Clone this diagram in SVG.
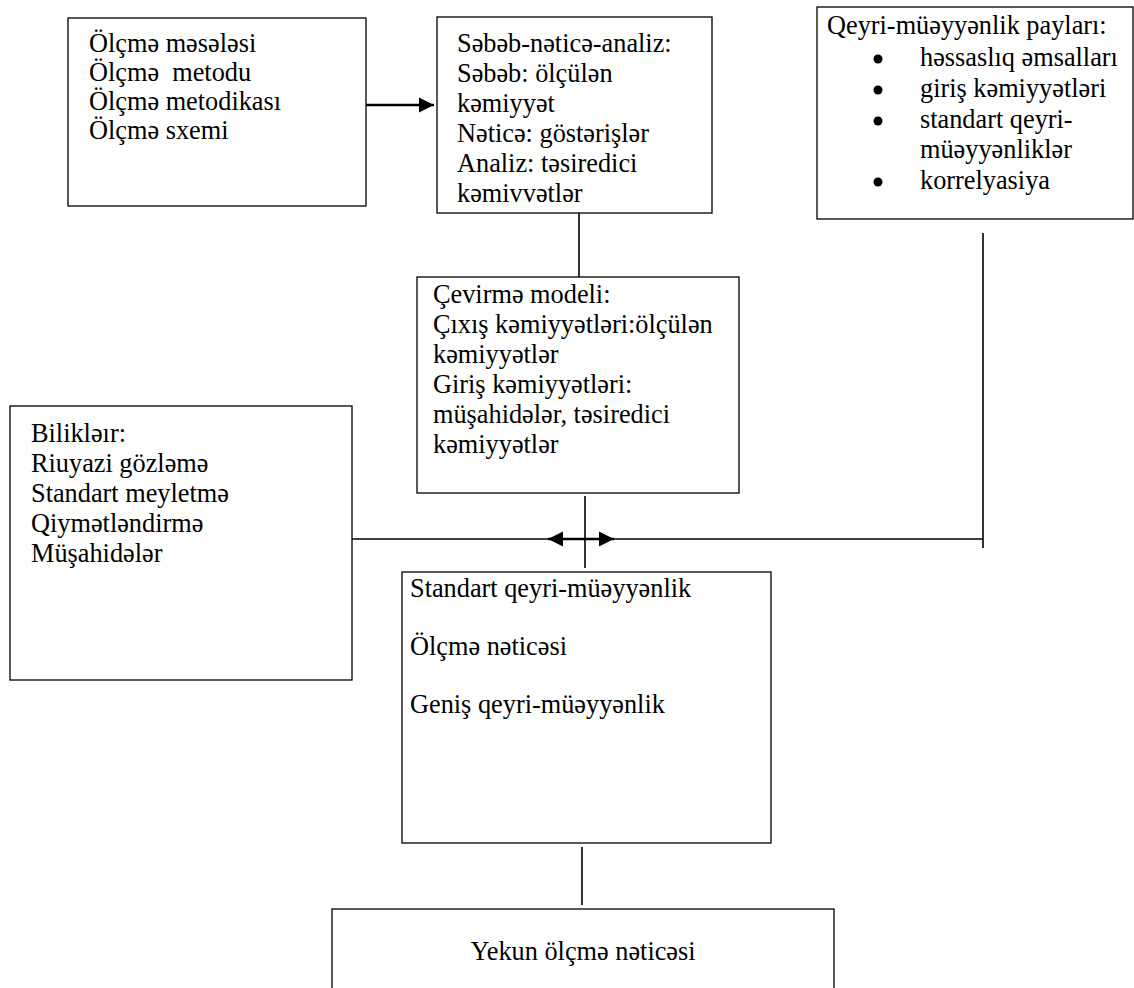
<svg xmlns="http://www.w3.org/2000/svg" width="1134" height="988" viewBox="0 0 1134 988">
<style>
  .box { fill: #ffffff; stroke: #000000; stroke-width: 1.3; }
  .t { font-family: "Liberation Serif", "DejaVu Serif", "Times New Roman", serif; font-size: 26.3px; fill: #000000; }
  .ln { stroke: #000000; stroke-width: 1.6; fill: none; }
  .thick { stroke: #000000; stroke-width: 2.6; fill: none; }
</style>
<defs>
  <marker id="ah" markerUnits="userSpaceOnUse" markerWidth="16" markerHeight="16" refX="15" refY="8" orient="auto-start-reverse">
    <path d="M0,0.5 L15,8 L0,15.5 Z" fill="#000000"/>
  </marker>
</defs>
<rect width="1134" height="988" fill="#ffffff"/>

<g id="connectors">
  <line class="thick" x1="363" y1="105" x2="434" y2="105" marker-end="url(#ah)"/>
  <line class="ln" x1="579" y1="213" x2="579" y2="277"/>
  <line class="ln" x1="585" y1="496" x2="585" y2="568"/>
  <line class="ln" x1="352" y1="539" x2="983" y2="539"/>
  <line class="thick" x1="548" y1="539" x2="614" y2="539" marker-start="url(#ah)" marker-end="url(#ah)"/>
  <line class="ln" x1="983" y1="233" x2="983" y2="548"/>
  <line class="ln" x1="582" y1="847" x2="582" y2="905"/>
</g>

<g id="n-olcme">
  <rect class="box" x="68" y="18" width="298" height="188"/>
  <text class="t" x="89" y="52">Ölçmə məsələsi</text>
  <text class="t" x="89" y="81" xml:space="preserve">Ölçmə  metodu</text>
  <text class="t" x="89" y="110">Ölçmə metodikası</text>
  <text class="t" x="89" y="139">Ölçmə sxemi</text>
</g>

<g id="n-sebeb">
  <rect class="box" x="437" y="17" width="275" height="196"/>
  <text class="t" x="457" y="52">Səbəb-nəticə-analiz:</text>
  <text class="t" x="457" y="82">Səbəb: ölçülən</text>
  <text class="t" x="457" y="112">kəmiyyət</text>
  <text class="t" x="457" y="142">Nəticə: göstərişlər</text>
  <text class="t" x="457" y="172">Analiz: təsiredici</text>
  <text class="t" x="457" y="202">kəmivvətlər</text>
</g>

<g id="n-qeyri">
  <rect class="box" x="817" y="7" width="316" height="212"/>
  <text class="t" x="827" y="34">Qeyri-müəyyənlik payları:</text>
  <circle cx="878" cy="59" r="4.5" fill="#000000"/>
  <text class="t" x="920" y="66">həssaslıq əmsalları</text>
  <circle cx="878" cy="90" r="4.5" fill="#000000"/>
  <text class="t" x="920" y="97">giriş kəmiyyətləri</text>
  <circle cx="878" cy="121" r="4.5" fill="#000000"/>
  <text class="t" x="920" y="128">standart qeyri-</text>
  <text class="t" x="920" y="158">müəyyənliklər</text>
  <circle cx="878" cy="182" r="4.5" fill="#000000"/>
  <text class="t" x="920" y="189">korrelyasiya</text>
</g>

<g id="n-cevirme">
  <rect class="box" x="417" y="277" width="322" height="216"/>
  <text class="t" x="433" y="303">Çevirmə modeli:</text>
  <text class="t" x="433" y="333">Çıxış kəmiyyətləri:ölçülən</text>
  <text class="t" x="433" y="363">kəmiyyətlər</text>
  <text class="t" x="433" y="393">Giriş kəmiyyətləri:</text>
  <text class="t" x="433" y="423">müşahidələr, təsiredici</text>
  <text class="t" x="433" y="453">kəmiyyətlər</text>
</g>

<g id="n-bilikler">
  <rect class="box" x="10" y="406" width="342" height="274"/>
  <text class="t" x="31" y="442">Bilikləır:</text>
  <text class="t" x="31" y="472">Riuyazi gözləmə</text>
  <text class="t" x="31" y="502">Standart meyletmə</text>
  <text class="t" x="31" y="532">Qiymətləndirmə</text>
  <text class="t" x="31" y="562">Müşahidələr</text>
</g>

<g id="n-standart">
  <rect class="box" x="402" y="572" width="369" height="271"/>
  <text class="t" x="410" y="597">Standart qeyri-müəyyənlik</text>
  <text class="t" x="410" y="655">Ölçmə nəticəsi</text>
  <text class="t" x="410" y="713">Geniş qeyri-müəyyənlik</text>
</g>

<g id="n-yekun">
  <rect class="box" x="332" y="909" width="502" height="100"/>
  <text class="t" x="583" y="960" text-anchor="middle">Yekun ölçmə nəticəsi</text>
</g>
</svg>
